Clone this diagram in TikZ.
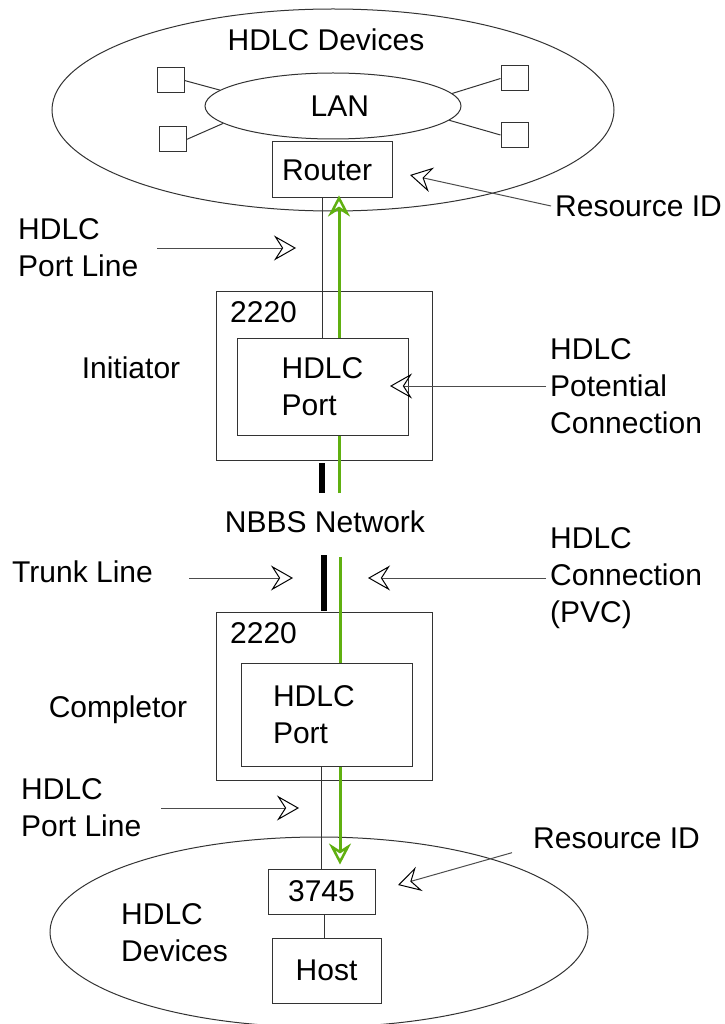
\documentclass[tikz,border=0pt]{standalone}
\usepackage{fontspec}
\setmainfont{Liberation Sans}
\usepackage{xcolor}
\definecolor{pvcgreen}{RGB}{96,176,16}
\definecolor{lineink}{HTML}{333333}
\usepackage{tikz}
\usetikzlibrary{arrows.meta, shapes.geometric, positioning}

\begin{document}
\begin{tikzpicture}[
  x=1pt, y=-1pt,
  txt/.style={font=\fontsize{30}{37}\selectfont},
  box/.style={txt, rectangle, draw=lineink, line width=1pt,
    fill=white, inner sep=0pt, align=left},
  cloud/.style={txt, ellipse, draw=lineink, line width=1pt,
    inner sep=0pt},
  dev/.style={rectangle, draw=lineink, line width=1pt, fill=white,
    minimum width=27pt, minimum height=25pt, inner sep=0pt},
  lbl/.style={txt, align=left, inner sep=4pt},
  ptr/.style={-{Stealth[open, color=black, length=22pt, width=25pt, inset=8pt]},
    line width=1pt, draw=black!70},
  pvc/.style={pvcgreen, line width=3pt},
  pvcarr/.style={pvc, -{Stealth[open, length=21pt, width=22pt, inset=7pt, line width=2.5pt]}},
  trunkbar/.style={line width=6pt, black},
  link/.style={line width=1pt, lineink}
]
  \useasboundingbox (0,0) rectangle (724,1024);

  % upper site
  \node[cloud, minimum width=562pt, minimum height=202pt] (sitetop) at (333,110) {};
  \node[txt] (devtop) at (326,40) {HDLC Devices};
  \node[cloud, minimum width=256pt, minimum height=66pt,
    text width=72pt, align=right] (lan) at (333,106) {LAN};
  \node[dev] (d1) at (170.5,80.5) {};
  \node[dev] (d2) at (172.5,139.5) {};
  \node[dev] (d3) at (514.5,78.5) {};
  \node[dev] (d4) at (514.5,135) {};
  \node[box, minimum width=120pt, minimum height=56pt, text width=100pt] (router) at (332,170) {Router};

  \draw[link] (d1.east) -- (lan.172);
  \draw[link] (d2.east) -- (lan.189);
  \draw[link] (d3.west) -- (lan.6);
  \draw[link] (d4.west) -- (lan.353);

  % initiator
  \node[box, minimum width=216pt, minimum height=169pt] (init) at (324,375.5) {};
  \node[lbl, anchor=west] (initnum) at (226,312) {2220};
  \node[box, minimum width=171pt, minimum height=97pt] (port1) at (322.5,386.5) {HDLC\\Port};
  \node[txt] (initlbl) at (131,368) {Initiator};

  % network
  \node[txt] (nbbs) at (325,522) {NBBS Network};
  \coordinate (bar1top) at (322,463);
  \coordinate (bar1bot) at (322,493);
  \coordinate (bar2top) at (324,555);
  \coordinate (bar2bot) at (324,611);
  \coordinate (g1) at (339,493);
  \coordinate (g2) at (340,557);

  % completor
  \node[box, minimum width=216pt, minimum height=168pt] (comp) at (324,696) {};
  \node[lbl, anchor=west] (compnum) at (226,633) {2220};
  \node[box, minimum width=171pt, minimum height=103pt, text width=107pt] (port2) at (326.5,714.5) {HDLC\\Port};
  \node[txt] (complbl) at (118,710) {Completor};

  % lower site
  \node[cloud, minimum width=538pt, minimum height=190pt] (sitebot) at (319,932) {};
  \node[lbl, anchor=west] (devbot) at (117,933) {HDLC\\Devices};
  \node[box, minimum width=107pt, minimum height=45pt] (fep) at (321.5,891.5) {3745};
  \node[box, minimum width=109pt, minimum height=65pt] (host) at (326.5,970.5) {Host};

  % lines
  \draw[link] (port1.north |- router.south) -- (port1.north);
  \draw[link] (fep.north |- port2.south) -- (fep.north);
  \draw[link] (fep.south -| 324,0) -- (host.north -| 324,0);
  \draw[trunkbar] (bar1top) -- (bar1bot);
  \draw[trunkbar] (bar2top) -- (bar2bot);
  \draw[pvc] (g1) -- (g1 |- port1.south);
  \draw[pvcarr] (g1 |- port1.north) -- ([yshift=3pt]g1 |- router.south);
  \draw[pvc] (g2) -- (g2 |- port2.north);
  \draw[pvcarr] (g2 |- port2.south) -- ([yshift=4pt]g2 |- fep.north);

  % pointers
  \node[lbl, anchor=west] (rid1) at (551,206) {Resource ID};
  \node[lbl, anchor=west] (pl1) at (14,248) {HDLC\\Port Line};
  \node[lbl, anchor=west] (pot) at (546,386) {HDLC\\Potential\\Connection};
  \node[lbl, anchor=west] (trunk) at (8,572) {Trunk Line};
  \node[lbl, anchor=west] (conn) at (546,578) {HDLC\\Connection\\(PVC)};
  \node[lbl, anchor=west] (pl2) at (17,808) {HDLC\\Port Line};
  \node[lbl, anchor=west] (rid2) at (529,838) {Resource ID};
  \coordinate (rid1tip) at (410,175);
  \coordinate (pl1tip) at (296,248);
  \coordinate (pottip) at (390,386);
  \coordinate (trunktip) at (293,578);
  \coordinate (conntip) at (368,578);
  \coordinate (pl2tip) at (299,808);
  \coordinate (rid2tip) at (398,885);

  \draw[ptr] (rid1.west) -- (rid1tip);
  \draw[ptr] ([xshift=15pt]pl1.east) -- (pl1tip);
  \draw[ptr] (pot.west) -- (pottip);
  \draw[ptr] ([xshift=32pt,yshift=-6pt]trunk.east) -- (trunktip);
  \draw[ptr] (conn.west) -- (conntip);
  \draw[ptr] ([xshift=16pt]pl2.east) -- (pl2tip);
  \draw[ptr] ([xshift=-17pt]rid2.south west) -- (rid2tip);
\end{tikzpicture}
\end{document}
